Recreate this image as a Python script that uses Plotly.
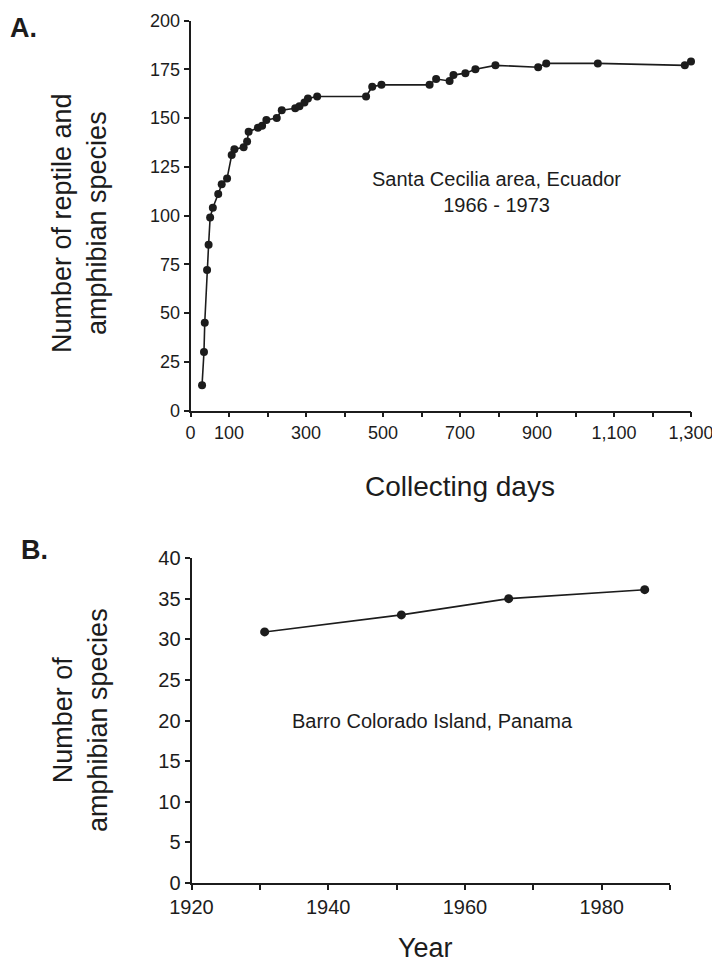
import plotly.graph_objects as go

# Panel A: Santa Cecilia area, Ecuador (collecting days vs species)
days_a = [30, 35, 37, 43, 47, 51, 58, 72, 81, 95, 107, 114, 138, 147, 151, 175, 186, 197,
          224, 237, 272, 283, 296, 305, 329, 456, 472, 496, 621, 638, 673, 683, 714, 740,
          792, 903, 924, 1058, 1284, 1300]
species_a = [13, 30, 45, 72, 85, 99, 104, 111, 116, 119, 131, 134, 135, 138, 143, 145, 146, 149,
             150, 154, 155, 156, 158, 160, 161, 161, 166, 167, 167, 170, 169, 172, 173, 175,
             177, 176, 178, 178, 177, 179]
xticks_a = list(range(0, 1400, 100))
xticklabels_a = ["0", "100", "", "300", "", "500", "", "700", "", "900", "", "1,100", "", "1,300"]
yticks_a = [0, 25, 50, 75, 100, 125, 150, 175, 200]

# Panel B: Barro Colorado Island, Panama (year vs amphibian species)
years_b = [1930.7, 1950.7, 1966.4, 1986.3]
species_b = [30.9, 33.0, 35.0, 36.1]
xticks_b = list(range(1920, 2000, 10))
xticklabels_b = ["1920", "", "1940", "", "1960", "", "1980", ""]
yticks_b = [0, 5, 10, 15, 20, 25, 30, 35, 40]

# The page body has an 8px default margin; size the figure so it fills the window.
OFF = 8
W, H = 720 - OFF, 967 - OFF
INK = "#1c1c1c"
FONT = "Liberation Sans, Arial, Helvetica, sans-serif"


def px_x(p):
    return (p - OFF) / W


def px_y(p):
    return 1 - (p - OFF) / H


fig = go.Figure()
fig.add_trace(go.Scatter(x=days_a, y=species_a, mode="lines+markers",
                         line=dict(color=INK, width=1.6),
                         marker=dict(color=INK, size=8),
                         xaxis="x", yaxis="y", cliponaxis=False, showlegend=False))
fig.add_trace(go.Scatter(x=years_b, y=species_b, mode="lines+markers",
                         line=dict(color=INK, width=1.6),
                         marker=dict(color=INK, size=9),
                         xaxis="x2", yaxis="y2", cliponaxis=False, showlegend=False))

axis_common = dict(showline=True, linecolor=INK, linewidth=1.8, ticks="outside",
                   ticklen=5, tickwidth=1.5, tickcolor=INK, showgrid=False,
                   zeroline=False)

fig.update_layout(
    width=W, height=H, margin=dict(l=0, r=0, t=0, b=0, autoexpand=False),
    paper_bgcolor="white", plot_bgcolor="white",
    xaxis=dict(domain=[px_x(190.5), px_x(691)], range=[0, 1300], anchor="y",
               tickvals=xticks_a, ticktext=xticklabels_a,
               tickfont=dict(family=FONT, color=INK, size=18), **axis_common),
    yaxis=dict(domain=[px_y(410.5), px_y(20.5)], range=[0, 200], anchor="x",
               tickvals=yticks_a,
               tickfont=dict(family=FONT, color=INK, size=18), **axis_common),
    xaxis2=dict(domain=[px_x(191.5), px_x(670)], range=[1920, 1990], anchor="y2",
                tickvals=xticks_b, ticktext=xticklabels_b,
                tickfont=dict(family=FONT, color=INK, size=20), **axis_common),
    yaxis2=dict(domain=[px_y(883), px_y(558)], range=[0, 40], anchor="x2",
                tickvals=yticks_b,
                tickfont=dict(family=FONT, color=INK, size=20), **axis_common),
)

ann = []
# Panel labels
ann.append(dict(text="<b>A.</b>", x=px_x(8), y=px_y(28), xref="paper", yref="paper",
                xanchor="left", yanchor="middle", showarrow=False,
                font=dict(family=FONT, size=27, color=INK)))
ann.append(dict(text="<b>B.</b>", x=px_x(19), y=px_y(550), xref="paper", yref="paper",
                xanchor="left", yanchor="middle", showarrow=False,
                font=dict(family=FONT, size=27, color=INK)))
# Axis titles
ann.append(dict(text="Number of reptile and<br>amphibian species", x=px_x(79), y=px_y(223),
                xref="paper", yref="paper", textangle=-90, xanchor="center", yanchor="middle",
                showarrow=False, font=dict(family=FONT, size=27, color=INK)))
ann.append(dict(text="Collecting days", x=px_x(460), y=px_y(486), xref="paper", yref="paper",
                xanchor="center", yanchor="middle", showarrow=False,
                font=dict(family=FONT, size=28, color=INK)))
ann.append(dict(text="Number of<br>amphibian species", x=px_x(80), y=px_y(720),
                xref="paper", yref="paper", textangle=-90, xanchor="center", yanchor="middle",
                showarrow=False, font=dict(family=FONT, size=27, color=INK)))
ann.append(dict(text="Year", x=px_x(425), y=px_y(948), xref="paper", yref="paper",
                xanchor="center", yanchor="middle", showarrow=False,
                font=dict(family=FONT, size=27, color=INK)))
# In-plot labels
ann.append(dict(text="Santa Cecilia area, Ecuador<br>1966 - 1973", x=796, y=112,
                xref="x", yref="y", xanchor="center", yanchor="middle", showarrow=False,
                font=dict(family=FONT, size=20, color=INK)))
ann.append(dict(text="Barro Colorado Island, Panama", x=1955.3, y=20,
                xref="x2", yref="y2", xanchor="center", yanchor="middle", showarrow=False,
                font=dict(family=FONT, size=20, color=INK)))
fig.update_layout(annotations=ann)

fig.write_html("out.html")
